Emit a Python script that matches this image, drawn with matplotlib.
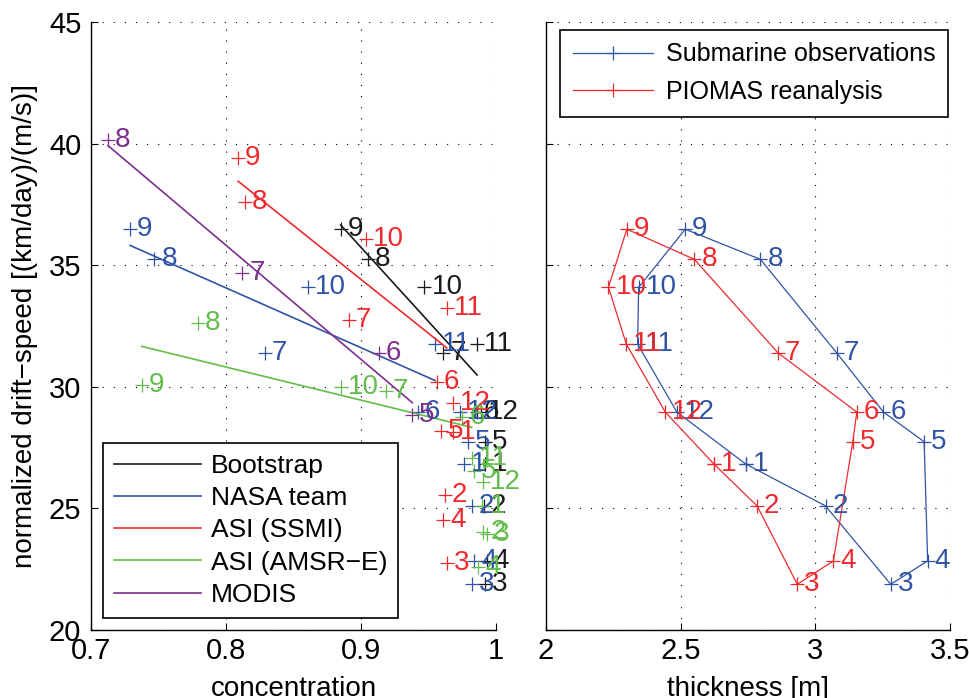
import numpy as np
import matplotlib
matplotlib.use("Agg")
import matplotlib.pyplot as plt
from matplotlib.ticker import FuncFormatter

plt.rcParams['font.family'] = ['Liberation Sans', 'DejaVu Sans']
plt.rcParams['font.size'] = 19

months = [1, 2, 3, 4, 5, 6, 7, 8, 9, 10, 11, 12]

# observed normalized drift speed per month (shared by Bootstrap / NASA team / submarine panel)
speed = [26.83, 25.10, 21.88, 22.84, 27.74, 28.96, 31.40, 35.24, 36.48, 34.09, 31.76, 28.96]

# concentration per month for each ice product
conc_bootstrap = [0.992, 0.991, 0.992, 0.993, 0.992, 0.986, 0.961, 0.905, 0.885, 0.947, 0.986, 0.989]
conc_nasa = [0.976, 0.982, 0.982, 0.984, 0.979, 0.942, 0.829, 0.747, 0.729, 0.861, 0.955, 0.973]

conc_ssmi = [0.968, 0.962, 0.9635, 0.961, 0.959, 0.956, 0.891, 0.814, 0.809, 0.904, 0.9635, 0.968]
speed_ssmi = [28.15, 25.55, 22.74, 24.52, 28.20, 30.21, 32.75, 37.61, 39.40, 36.07, 33.23, 29.35]

conc_amsre = [0.990, 0.9906, 0.993, 0.987, 0.984, 0.975, 0.9185, 0.779, 0.7375, 0.885, 0.982, 0.9906]
speed_amsre = [25.10, 24.02, 23.95, 22.60, 26.55, 28.77, 29.84, 32.64, 30.07, 30.00, 27.06, 26.10]

modis_months = [5, 6, 7, 8]
conc_modis = [0.938, 0.913, 0.812, 0.7126]
speed_modis = [28.84, 31.38, 34.67, 40.15]

# months used for the linear fits
fit_months = [6, 7, 8, 9, 10, 11]

# ice thickness per month
thick_sub = [2.741, 3.038, 3.280, 3.417, 3.404, 3.253, 3.079, 2.796, 2.517, 2.344, 2.340, 2.486]
thick_piomas = [2.623, 2.784, 2.933, 3.067, 3.139, 3.154, 2.861, 2.551, 2.300, 2.232, 2.298, 2.443]

BLACK = '#1a1a1a'
BLUE = '#3153a4'
RED = '#ee2a2e'
GREEN = '#62bd4a'
PURPLE = '#7e2f8e'

products = [
    ('Bootstrap', BLACK, months, conc_bootstrap, speed, fit_months),
    ('NASA team', BLUE, months, conc_nasa, speed, fit_months),
    ('ASI (SSMI)', RED, months, conc_ssmi, speed_ssmi, fit_months),
    ('ASI (AMSR\u2212E)', GREEN, months, conc_amsre, speed_amsre, fit_months),
    ('MODIS', PURPLE, modis_months, conc_modis, speed_modis, modis_months),
]

fig = plt.figure(figsize=(9.70, 6.98), dpi=100)
ax1 = fig.add_axes([91 / 970, 1 - 630 / 698, 405 / 970, 608 / 698])
ax2 = fig.add_axes([546 / 970, 1 - 630 / 698, 404 / 970, 608 / 698])


def style(ax):
    for s in ('top', 'right'):
        ax.spines[s].set_visible(False)
    for s in ('left', 'bottom'):
        ax.spines[s].set_linewidth(1.0)
    ax.tick_params(direction='in', length=5, width=0.8, top=False, right=False,
                   labelsize=21, pad=5)
    ax.grid(True, color='black', linewidth=0.8, linestyle=(0, (1, 9)))
    ax.set_axisbelow(True)
    ax.xaxis.set_major_formatter(FuncFormatter(lambda v, p: '%g' % v))


def label_points(ax, xs, ys, ms, color):
    for x, y, m in zip(xs, ys, ms):
        ax.annotate(str(m), (x, y), xytext=(5, 0), textcoords='offset points',
                    ha='left', va='center', color=color, fontsize=20)


# left panel: scatter + month labels + linear fit
for name, col, ms, cs, vs, fm in products:
    cs = np.array(cs)
    vs = np.array(vs)
    ax1.plot(cs, vs, linestyle='none', marker='+', markersize=10,
             markeredgewidth=0.9, color=col)
    label_points(ax1, cs, vs, ms, col)
    sel = np.isin(ms, fm)
    k, b = np.polyfit(cs[sel], vs[sel], 1)
    xr = np.array([cs[sel].min(), cs[sel].max()])
    ax1.plot(xr, k * xr + b, color=col, linewidth=1.2, label=name)

style(ax1)
ax1.set_xlim(0.7, 1.0)
ax1.set_ylim(20, 45)
ax1.set_xticks([0.7, 0.8, 0.9, 1.0])
ax1.set_yticks([20, 25, 30, 35, 40, 45])
ax1.tick_params(axis='y', pad=7)
ax1.set_xlabel('concentration', fontsize=20, labelpad=8)
ax1.set_ylabel('normalized drift\u2212speed [(km/day)/(m/s)]', fontsize=20, labelpad=8)
leg1 = ax1.legend(loc='lower left', bbox_to_anchor=(0.03, 0.02), fontsize=19,
                  handlelength=3.3, handletextpad=0.35, labelspacing=0.31,
                  borderpad=0.42, fancybox=False, framealpha=1, borderaxespad=0)
leg1.get_frame().set_edgecolor('black')
leg1.get_frame().set_linewidth(1.2)

# right panel: monthly cycle of thickness vs drift speed
loop = months + months[:1]
for name, col, th in [('Submarine observations', BLUE, thick_sub),
                      ('PIOMAS reanalysis', RED, thick_piomas)]:
    tx = [th[m - 1] for m in loop]
    sy = [speed[m - 1] for m in loop]
    ax2.plot(tx, sy, color=col, linewidth=0.9, marker='+', markersize=10,
             markeredgewidth=0.9, label=name)
    label_points(ax2, th, speed, months, col)

style(ax2)
ax2.set_xlim(2, 3.5)
ax2.set_ylim(20, 45)
ax2.set_xticks([2, 2.5, 3, 3.5])
ax2.set_yticks([20, 25, 30, 35, 40, 45])
ax2.set_yticklabels([])
ax2.set_xlabel('thickness [m]', fontsize=20, labelpad=8)
leg2 = ax2.legend(loc='upper left', bbox_to_anchor=(0.035, 0.0, 0.96, 0.987),
                  mode='expand', fontsize=18, handlelength=3.2, handletextpad=0.55,
                  labelspacing=0.55, borderpad=0.5, fancybox=False, framealpha=1,
                  borderaxespad=0)
leg2.get_frame().set_edgecolor('black')
leg2.get_frame().set_linewidth(1.2)

fig.savefig('out.png', dpi=100)
